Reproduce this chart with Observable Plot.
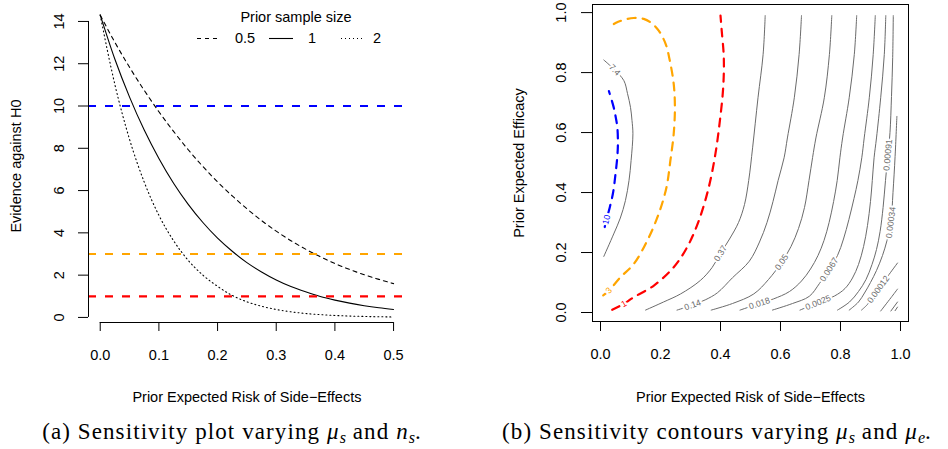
<!DOCTYPE html>
<html><head><meta charset="utf-8">
<script src="https://cdn.jsdelivr.net/npm/d3@7"></script>
<script src="https://cdn.jsdelivr.net/npm/@observablehq/plot@0.6"></script>
<style>
html,body{margin:0;padding:0;background:#fff;}
#wrap{position:relative;width:948px;height:449px;overflow:hidden;font-family:"Liberation Sans",Arial,sans-serif;}
.panel{position:absolute;top:0;width:474px;height:412px;}
.cap{position:absolute;top:420px;font-family:"Liberation Serif","Times New Roman",serif;font-size:23px;letter-spacing:1.1px;line-height:24px;text-align:center;white-space:nowrap;color:#000;}
.cap sub{font-size:0.7em;line-height:0;vertical-align:-0.22em;letter-spacing:0;}
</style></head>
<body><div id="wrap">
<div id="panelA" class="panel" style="left:0px"></div>
<div id="panelB" class="panel" style="left:474px"></div>
<div class="cap" style="left:0px;width:464px">(a) Sensitivity plot varying <i>μ<sub>s</sub></i> and <i>n<sub>s</sub></i>.</div>
<div class="cap" style="left:480px;width:474px">(b) Sensitivity contours varying <i>μ<sub>s</sub></i> and <i>μ<sub>e</sub></i>.</div>
</div>
<script>
// ---------- Panel (a) data ----------
const riskGrid = [0,0.025,0.05,0.075,0.1,0.125,0.15,0.175,0.2,0.225,0.25,0.275,0.3,0.325,0.35,0.375,0.4,0.425,0.45,0.475,0.5];
const evid05 = [14.3,13.01,11.83,10.74,9.73,8.80,7.93,7.14,6.41,5.75,5.14,4.58,4.08,3.63,3.23,2.87,2.55,2.27,2.02,1.80,1.60];
const evid1  = [14.3,12.21,10.42,8.86,7.52,6.35,5.35,4.49,3.75,3.13,2.59,2.15,1.77,1.46,1.21,0.99,0.82,0.675,0.556,0.458,0.377];
const evid2  = [14.3,11.01,8.42,6.40,4.83,3.63,2.70,2.00,1.47,1.04,0.74,0.53,0.375,0.265,0.187,0.132,0.093,0.065,0.046,0.032,0.022];
const thresholds = [10,3,1];
const thresholdColors = ["#0000ff","#ffa500","#ff0000"];
const xTicksA = [0,0.1,0.2,0.3,0.4,0.5];
const yTicksA = [0,2,4,6,8,10,12,14];
const legendTitle = "Prior sample size";
const nLabels = ["0.5","1","2"];
const nDash = ["4,4", null, "1,3"];
const xTitle = "Prior Expected Risk of Side\u2212Effects";
const yTitleA = "Evidence against H0";
const yTitleB = "Prior Expected Efficacy";

// ---------- Panel (b) data: contour lines ----------
const levelNames = ["10","7.4","3","1","0.37","0.14","0.05","0.018","0.0067","0.0025","0.00091","0.00034","0.00012","","",""];
const c10  = [[0.014,0.285],[0.02,0.31],[0.031,0.351],[0.042,0.40],[0.05,0.462],[0.056,0.52],[0.058,0.562],[0.056,0.618],[0.05,0.655],[0.044,0.684],[0.028,0.738]];
const c7_4 = [[0.011,0.187],[0.044,0.262],[0.066,0.315],[0.083,0.373],[0.095,0.44],[0.102,0.507],[0.108,0.596],[0.105,0.64],[0.1,0.684],[0.09,0.73],[0.078,0.773],[0.047,0.809],[0.011,0.842]];
const c3   = [[0.009,0.057],[0.028,0.073],[0.067,0.118],[0.111,0.162],[0.156,0.24],[0.194,0.329],[0.22,0.418],[0.233,0.507],[0.244,0.596],[0.248,0.684],[0.244,0.762],[0.231,0.84],[0.217,0.896],[0.194,0.94],[0.17,0.965],[0.144,0.979],[0.111,0.982],[0.078,0.976],[0.05,0.965],[0.028,0.951]];
const c1   = [[0.039,0.009],[0.078,0.029],[0.111,0.051],[0.178,0.09],[0.244,0.151],[0.289,0.218],[0.328,0.307],[0.361,0.418],[0.383,0.529],[0.398,0.64],[0.409,0.751],[0.411,0.85],[0.404,0.94],[0.40,0.99]];
const c037 = [[0.15,0.008],[0.21,0.035],[0.267,0.062],[0.333,0.107],[0.372,0.15],[0.40,0.197],[0.43,0.245],[0.46,0.30],[0.48,0.36],[0.494,0.44],[0.507,0.549],[0.525,0.716],[0.542,0.86],[0.549,0.99]];
const c014 = [[0.255,0.008],[0.307,0.025],[0.351,0.043],[0.39,0.066],[0.44,0.116],[0.496,0.171],[0.53,0.235],[0.555,0.30],[0.575,0.37],[0.592,0.44],[0.612,0.516],[0.623,0.582],[0.646,0.716],[0.662,0.86],[0.67,0.99]];
const c005 = [[0.369,0.008],[0.44,0.03],[0.511,0.062],[0.56,0.11],[0.604,0.168],[0.635,0.22],[0.66,0.28],[0.68,0.35],[0.695,0.44],[0.707,0.517],[0.718,0.582],[0.746,0.716],[0.763,0.86],[0.771,0.99]];
const c0018 = [[0.465,0.008],[0.53,0.03],[0.576,0.045],[0.63,0.07],[0.67,0.105],[0.70,0.145],[0.725,0.19],[0.745,0.24],[0.762,0.30],[0.777,0.37],[0.789,0.44],[0.798,0.516],[0.807,0.582],[0.829,0.716],[0.846,0.86],[0.854,0.99]];
const c00067 = [[0.573,0.008],[0.64,0.03],[0.696,0.054],[0.73,0.097],[0.762,0.143],[0.79,0.19],[0.81,0.245],[0.828,0.31],[0.845,0.38],[0.858,0.44],[0.871,0.516],[0.879,0.582],[0.896,0.716],[0.909,0.86],[0.916,0.99]];
const c00025 = [[0.665,0.008],[0.725,0.033],[0.78,0.055],[0.815,0.08],[0.84,0.115],[0.86,0.16],[0.877,0.22],[0.89,0.29],[0.90,0.37],[0.906,0.44],[0.912,0.516],[0.92,0.582],[0.934,0.716],[0.946,0.86],[0.951,0.99]];
const c00091 = [[0.79,0.008],[0.83,0.035],[0.86,0.07],[0.885,0.11],[0.905,0.16],[0.92,0.21],[0.932,0.27],[0.942,0.35],[0.95,0.44],[0.958,0.525],[0.965,0.6],[0.97,0.72],[0.974,0.85],[0.976,0.99]];
const c00034 = [[0.829,0.008],[0.86,0.035],[0.88,0.065],[0.90,0.1],[0.92,0.14],[0.94,0.19],[0.955,0.24],[0.968,0.30],[0.975,0.4],[0.982,0.52],[0.988,0.654]];
const c00012 = [[0.87,0.008],[0.89,0.027],[0.926,0.077],[0.962,0.127],[0.99,0.165]];
const cJ = [[0.934,0.005],[0.968,0.049],[0.99,0.078]];
const cK = [[0.968,0.005],[0.99,0.035]];
const cL = [[0.982,0.006],[0.99,0.018]];
const contourPts = [c10,c7_4,c3,c1,c037,c014,c005,c0018,c00067,c00025,c00091,c00034,c00012,cJ,cK,cL];
const labelAt = [[0.02,0.31],[0.047,0.809],[0.028,0.073],[0.078,0.029],[0.40,0.197],[0.307,0.025],[0.604,0.168],[0.53,0.03],[0.762,0.143],[0.725,0.033],[0.958,0.525],[0.968,0.30],[0.926,0.077],null,null,null];
const highlightColor = {"10":"#0000ff","3":"#ffa500","1":"#ff0000"};
const xTicksB = [0,0.2,0.4,0.6,0.8,1.0];
const yTicksB = [0,0.2,0.4,0.6,0.8,1.0];

// ---------- shared ----------
const FONT = '"Liberation Sans", Arial, sans-serif';
const fmt1 = d3.format(".1f");
const baseStyle = {fontFamily: FONT, fontSize: "14.5px", background: "transparent", overflow: "visible", color: "#000"};
const T = (opts) => Object.assign({textAnchor: "middle", lineAnchor: "middle", fontSize: 14.5, fill: "#000"}, opts);

// ---------- Panel (a) ----------
const xDomA = [-0.02, 0.52], yDomA = [-0.24, 14.56];
const rowsA = vals => riskGrid.map((x, i) => ({x, y: vals[i]}));
const plotA = Plot.plot({
  width: 474, height: 412, marginLeft: 88, marginRight: 69.2, marginTop: 9.1, marginBottom: 90,
  x: {domain: xDomA, axis: null}, y: {domain: yDomA, axis: null},
  color: {type: "identity"},
  style: baseStyle,
  marks: [
    Plot.line(rowsA(evid05), {x: "x", y: "y", stroke: "#000", strokeWidth: 1.1, strokeDasharray: "4,4", curve: "monotone-x"}),
    Plot.line(rowsA(evid1), {x: "x", y: "y", stroke: "#000", strokeWidth: 1.1, curve: "monotone-x"}),
    Plot.line(rowsA(evid2), {x: "x", y: "y", stroke: "#000", strokeWidth: 1.1, strokeDasharray: "1,3", curve: "monotone-x"}),
    Plot.ruleY(thresholds, {y: d => d, stroke: (d, i) => thresholdColors[i], strokeWidth: 2.2, strokeDasharray: "8,9"}),
    Plot.ruleX([xDomA[0]], {x: d => d, y1: yTicksA[0], y2: yTicksA[yTicksA.length - 1], stroke: "#000"}),
    Plot.ruleY([yDomA[0]], {y: d => d, x1: xTicksA[0], x2: xTicksA[xTicksA.length - 1], stroke: "#000"}),
    Plot.axisY({ticks: yTicksA, tickSize: 10, tickFormat: () => "", label: null}),
    Plot.axisX({ticks: xTicksA, tickSize: 9, tickFormat: () => "", label: null}),
    Plot.text(yTicksA, T({y: d => d, text: d => String(d), frameAnchor: "left", dx: -29, rotate: -90})),
    Plot.text(xTicksA, T({x: d => d, text: d => fmt1(d), frameAnchor: "bottom", dy: 33})),
    Plot.text([xTitle], T({text: d => d, frameAnchor: "bottom", dy: 75})),
    Plot.text([yTitleA], T({text: d => d, frameAnchor: "left", dx: -72, rotate: -90}))
  ]
});
document.getElementById("panelA").appendChild(plotA);

// legend for panel (a)
const legSegX = [197, 269, 341], legTextX = [235, 308, 373];
const leg = d3.select("#panelA").append("svg")
  .attr("width", 474).attr("height", 60)
  .style("position", "absolute").style("left", "0px").style("top", "0px")
  .style("font-family", FONT).style("font-size", "14.5px");
leg.append("text").attr("x", 296).attr("y", 17).attr("text-anchor", "middle")
  .attr("dy", "0.35em").text(legendTitle);
nLabels.forEach((lab, i) => {
  const ln = leg.append("line").attr("x1", legSegX[i]).attr("x2", legSegX[i] + 24)
    .attr("y1", 38.5).attr("y2", 38.5).attr("stroke", "#000").attr("stroke-width", 1.1);
  if (nDash[i]) ln.attr("stroke-dasharray", nDash[i]);
  leg.append("text").attr("x", legTextX[i]).attr("y", 38).attr("dy", "0.35em").text(lab);
});

// ---------- Panel (b) ----------
const xDomB = [-0.0267, 1.0267], yDomB = [-0.03, 1.027];
const WB = 474, HB = 412, mL = 118, mR = 40, mT = 4, mB = 91;
const sx = Plot.scale({x: {domain: xDomB, range: [mL, WB - mR]}});
const sy = Plot.scale({y: {domain: yDomB, range: [HB - mB, mT]}});

const grayRows = [], hiRows = [], labelRows = [];
contourPts.forEach((pts, k) => {
  const name = levelNames[k];
  const col = highlightColor[name];
  pts.forEach(([x, y]) => (col ? hiRows : grayRows).push({x, y, id: k, col}));
  const at = labelAt[k];
  if (at) {
    let best = 0, bd = Infinity;
    pts.forEach(([x, y], j) => { const d = (x - at[0]) ** 2 + (y - at[1]) ** 2; if (d < bd) { bd = d; best = j; } });
    const p0 = pts[Math.max(0, best - 1)], p1 = pts[Math.min(pts.length - 1, best + 1)];
    let a = Math.atan2(sy.apply(p1[1]) - sy.apply(p0[1]), sx.apply(p1[0]) - sx.apply(p0[0])) * 180 / Math.PI;
    if (a > 90) a -= 180; if (a <= -90) a += 180;
    labelRows.push({x: at[0], y: at[1], text: name, angle: a, col: col || "#6b6b6b"});
  }
});

const plotB = Plot.plot({
  width: WB, height: HB, marginLeft: mL, marginRight: mR, marginTop: mT, marginBottom: mB,
  x: {domain: xDomB, axis: null}, y: {domain: yDomB, axis: null},
  color: {type: "identity"},
  style: baseStyle,
  marks: [
    Plot.line(grayRows, {x: "x", y: "y", z: "id", stroke: "#6b6b6b", strokeWidth: 1, curve: "catmull-rom"}),
    Plot.line(hiRows, {x: "x", y: "y", z: "id", stroke: "col", strokeWidth: 2.2, strokeDasharray: "8,7", curve: "catmull-rom"}),
    Plot.text(labelRows, {x: "x", y: "y", text: "text", rotate: "angle", fill: "col",
      stroke: "#fff", strokeWidth: 4, paintOrder: "stroke", fontSize: 8.7,
      textAnchor: "middle", lineAnchor: "middle"}),
    Plot.frame({stroke: "#000"}),
    Plot.axisY({ticks: yTicksB, tickSize: 11, tickFormat: () => "", label: null}),
    Plot.axisX({ticks: xTicksB, tickSize: 10, tickFormat: () => "", label: null}),
    Plot.text(yTicksB, T({y: d => d, text: d => fmt1(d), frameAnchor: "left", dx: -31, rotate: -90})),
    Plot.text(xTicksB, T({x: d => d, text: d => fmt1(d), frameAnchor: "bottom", dy: 33})),
    Plot.text([xTitle], T({text: d => d, frameAnchor: "bottom", dy: 76})),
    Plot.text([yTitleB], T({text: d => d, frameAnchor: "left", dx: -73, rotate: -90}))
  ]
});
document.getElementById("panelB").appendChild(plotB);
</script>
</body></html>
